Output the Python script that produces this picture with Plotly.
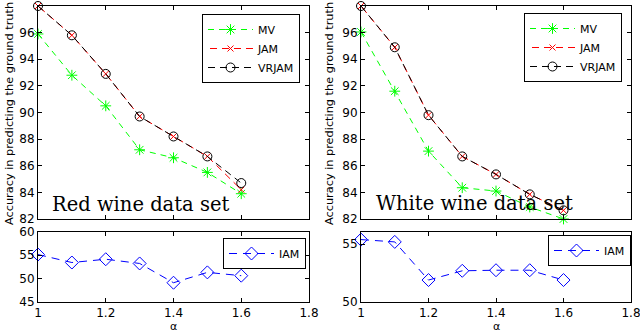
import plotly.graph_objs as go

alpha = [1.0, 1.1, 1.2, 1.3, 1.4, 1.5, 1.6]

# red wine
red_mv = [95.9, 92.8, 90.5, 87.2, 86.6, 85.5, 83.9]
red_jam = [98.0, 95.8, 92.9, 89.7, 88.2, 86.7, 84.2]
red_vrjam = [98.0, 95.8, 92.9, 89.7, 88.2, 86.7, 84.7]
red_iam = [55.1, 53.4, 54.1, 53.2, 49.1, 51.3, 50.6]

# white wine
white_mv = [96.05, 91.6, 87.1, 84.35, 84.1, 82.9, 82.0]
white_jam = [98.0, 94.9, 89.8, 86.7, 85.35, 83.85, 82.65]
white_vrjam = [98.0, 94.9, 89.8, 86.7, 85.35, 83.85, 82.65]
white_iam = [55.4, 55.2, 51.9, 52.7, 52.75, 52.75, 51.9]

top_yticks = [82, 84, 86, 88, 90, 92, 94, 96, 98]
x_ticks = [1, 1.2, 1.4, 1.6, 1.8]
x_ticktext = ['1', '1.2', '1.4', '1.6', '1.8']

FONT = 'DejaVu Sans'
W, H = 640, 333


def px(x):
    return x / W


def py(y):
    return 1 - y / H


def line_trace(x, y, name, color, dash, symbol, size, xa, ya, legend):
    return go.Scatter(x=x, y=y, name=name, mode='lines+markers',
                      line=dict(color=color, width=1, dash=dash),
                      marker=dict(symbol=symbol, size=size, color=color,
                                  line=dict(color=color, width=1)),
                      xaxis=xa, yaxis=ya, legend=legend, cliponaxis=False)


traces = []
for xa, ya, lg, mv, jam, vrjam in [('x', 'y', 'legend', red_mv, red_jam, red_vrjam),
                                  ('x2', 'y2', 'legend2', white_mv, white_jam, white_vrjam)]:
    traces.append(line_trace(alpha, mv, 'MV', '#00ff00', '6px,5px', 'asterisk-open', 9, xa, ya, lg))
    traces.append(line_trace(alpha, jam, 'JAM', '#ff0000', '0px,2px,7px,3px', 'x-thin-open', 6, xa, ya, lg))
    traces.append(line_trace(alpha, vrjam, 'VRJAM', '#000000', '7px,5px', 'circle-open', 9, xa, ya, lg))

traces.append(line_trace(alpha, red_iam, 'IAM', '#0000ff', '8px,6px', 'diamond-open', 10, 'x3', 'y3', 'legend3'))
traces.append(line_trace(alpha, white_iam, 'IAM', '#0000ff', '8px,6px', 'diamond-open', 10, 'x4', 'y4', 'legend4'))


def xax(domain, anchor, labels):
    return dict(domain=domain, anchor=anchor, range=[1, 1.8], tickmode='array',
                tickvals=x_ticks, ticktext=x_ticktext, showticklabels=labels,
                ticks='inside', ticklen=4, tickcolor='black', showline=True,
                linecolor='black', linewidth=1, mirror='ticks', showgrid=False,
                zeroline=False, automargin=False, ticklabeloverflow='allow',
                tickfont=dict(family=FONT, size=12, color='black'))


def yax(domain, anchor, rng, tickvals):
    return dict(domain=domain, anchor=anchor, range=rng, tickmode='array',
                tickvals=tickvals, ticks='inside', ticklen=4, tickcolor='black',
                showline=True, linecolor='black', linewidth=1, mirror='ticks',
                showgrid=False, zeroline=False, automargin=False,
                tickfont=dict(family=FONT, size=12, color='black'))


def legend(x, y):
    return dict(x=px(x), y=py(y), xanchor='left', yanchor='top', bgcolor='white',
                bordercolor='black', borderwidth=1, itemwidth=45,
                font=dict(family=FONT, size=11, color='black'),
                tracegroupgap=0)


left_x = [px(38), px(309)]
right_x = [px(361), px(631)]
top_y = [py(219), py(6)]
bot_y = [py(302), py(231.5)]

layout = go.Layout(
    width=W, height=H, margin=dict(l=0, r=0, t=0, b=0, autoexpand=False),
    paper_bgcolor='white', plot_bgcolor='white', showlegend=True,
    xaxis=xax(left_x, 'y', False), yaxis=yax(top_y, 'x', [82, 98], top_yticks),
    xaxis2=xax(right_x, 'y2', False), yaxis2=yax(top_y, 'x2', [82, 98], top_yticks),
    xaxis3=xax(left_x, 'y3', True), yaxis3=yax(bot_y, 'x3', [45, 60], [45, 50, 55, 60]),
    xaxis4=xax(right_x, 'y4', True), yaxis4=yax(bot_y, 'x4', [50, 56.1], [50, 55]),
    legend=legend(202, 14),
    legend2=legend(524, 13),
    legend3=legend(223, 238),
    legend4=legend(548, 235),
)

fig = go.Figure(data=traces, layout=layout)

ytitle = 'Accuracy in predicting the ground truth'
for xpx in [9, 329]:
    fig.add_annotation(text=ytitle, xref='paper', yref='paper', x=px(xpx), y=py(114),
                       textangle=-90, showarrow=False, xanchor='center', yanchor='middle',
                       font=dict(family=FONT, size=11.3, color='black'))
for xpx in [173, 496]:
    fig.add_annotation(text='α', xref='paper', yref='paper', x=px(xpx), y=py(326.5),
                       showarrow=False, xanchor='center', yanchor='middle',
                       font=dict(family=FONT, size=11, color='black'))

fig.add_annotation(text='Red wine data set', xref='paper', yref='paper', x=px(50),
                   y=py(204), showarrow=False, xanchor='left', yanchor='middle',
                   font=dict(family='DejaVu Serif', size=19.5, color='black'))
fig.add_annotation(text='White wine data set', xref='paper', yref='paper', x=px(374),
                   y=py(203), showarrow=False, xanchor='left', yanchor='middle',
                   font=dict(family='DejaVu Serif', size=19.5, color='black'))

fig.write_html("out.html", config={'displayModeBar': False},
               post_script="document.body.style.margin = '0px';")
